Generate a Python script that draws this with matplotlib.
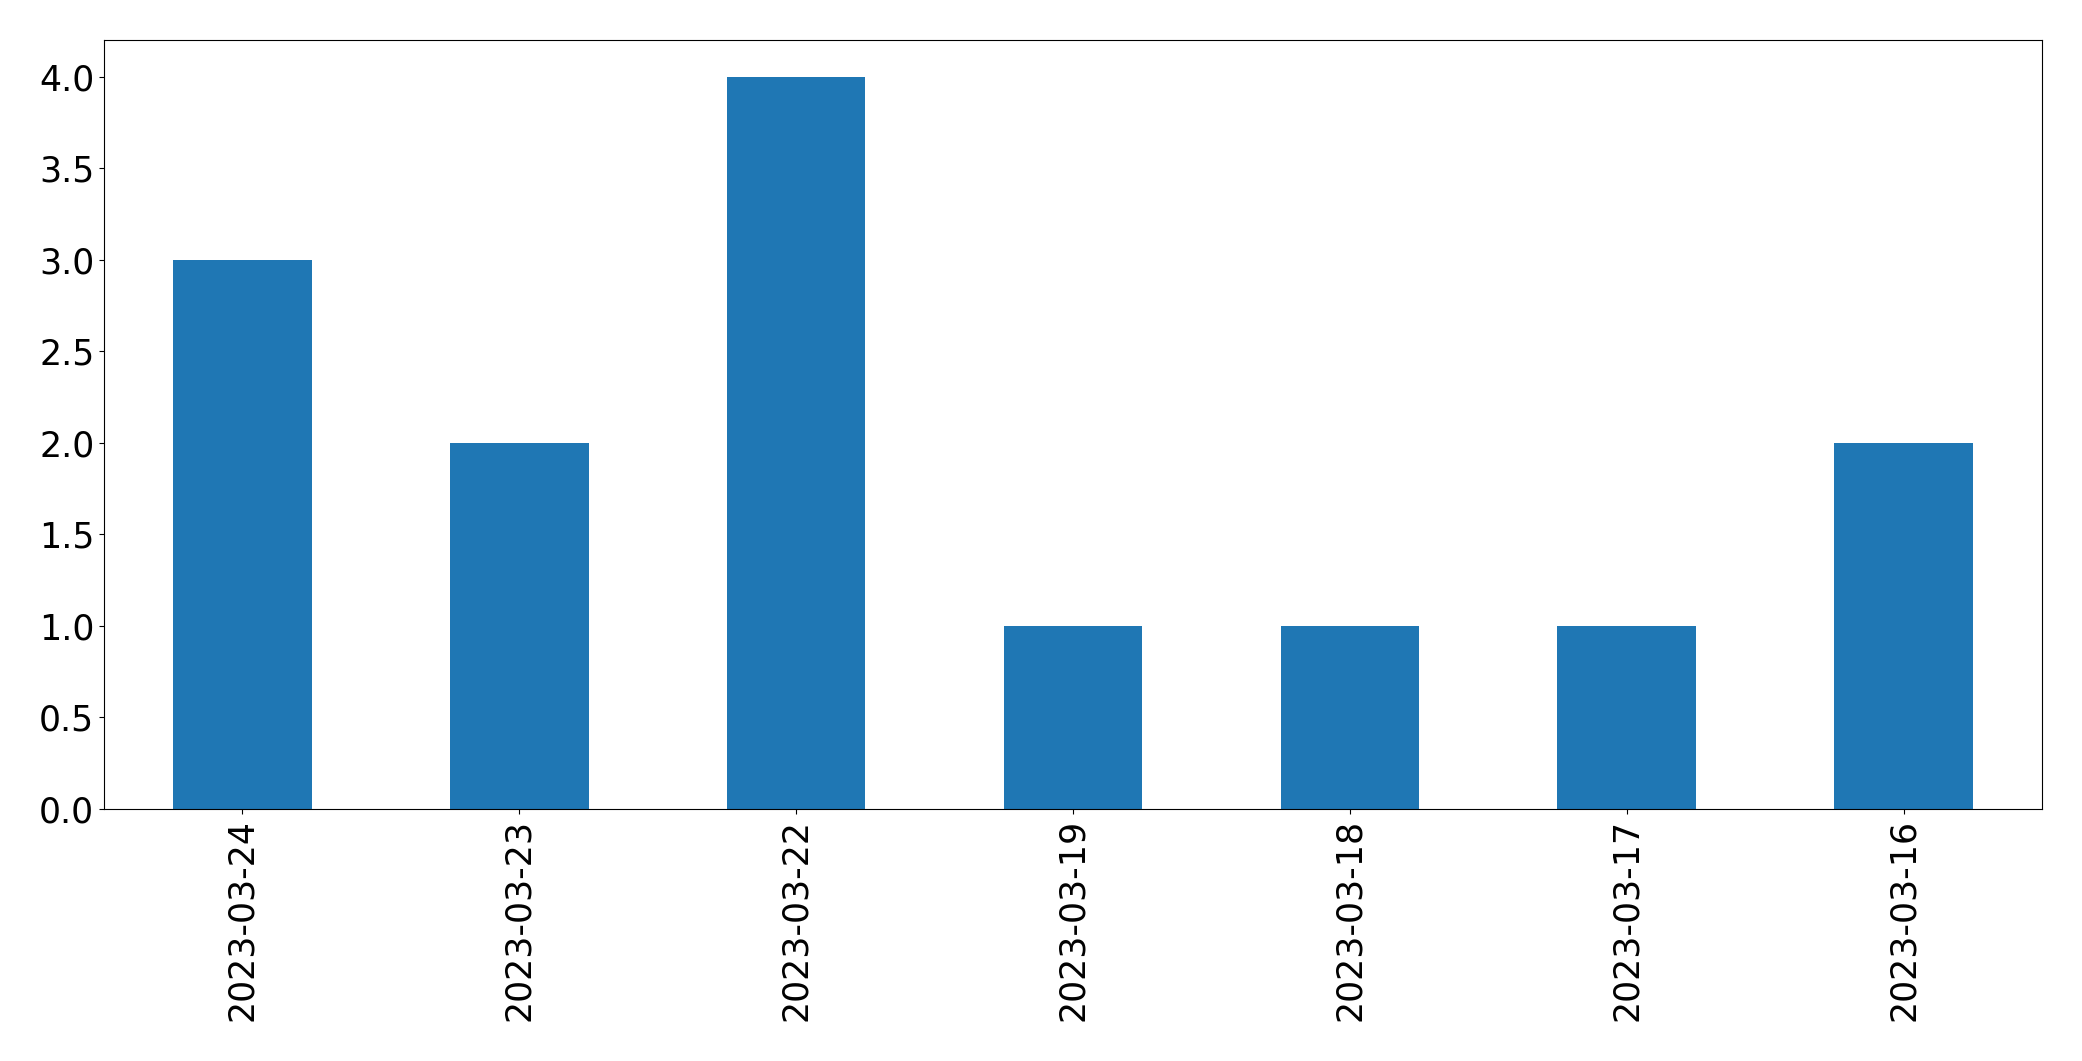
import pandas as pd
import matplotlib.pyplot as plt

dates = ['2023-03-24', '2023-03-23', '2023-03-22', '2023-03-19',
         '2023-03-18', '2023-03-17', '2023-03-16']
counts = [3, 2, 4, 1, 1, 1, 2]

s = pd.Series(counts, index=dates)

plt.rcParams['font.size'] = 25
fig = plt.figure(figsize=(20.82, 10.61), dpi=100)
ax = fig.add_axes([104 / 2082, 1 - 809 / 1061, (2042 - 104) / 2082, (809 - 40) / 1061])
s.plot(kind='bar', ax=ax, color='#1f77b4')
fig.savefig('out.png', dpi=100)
